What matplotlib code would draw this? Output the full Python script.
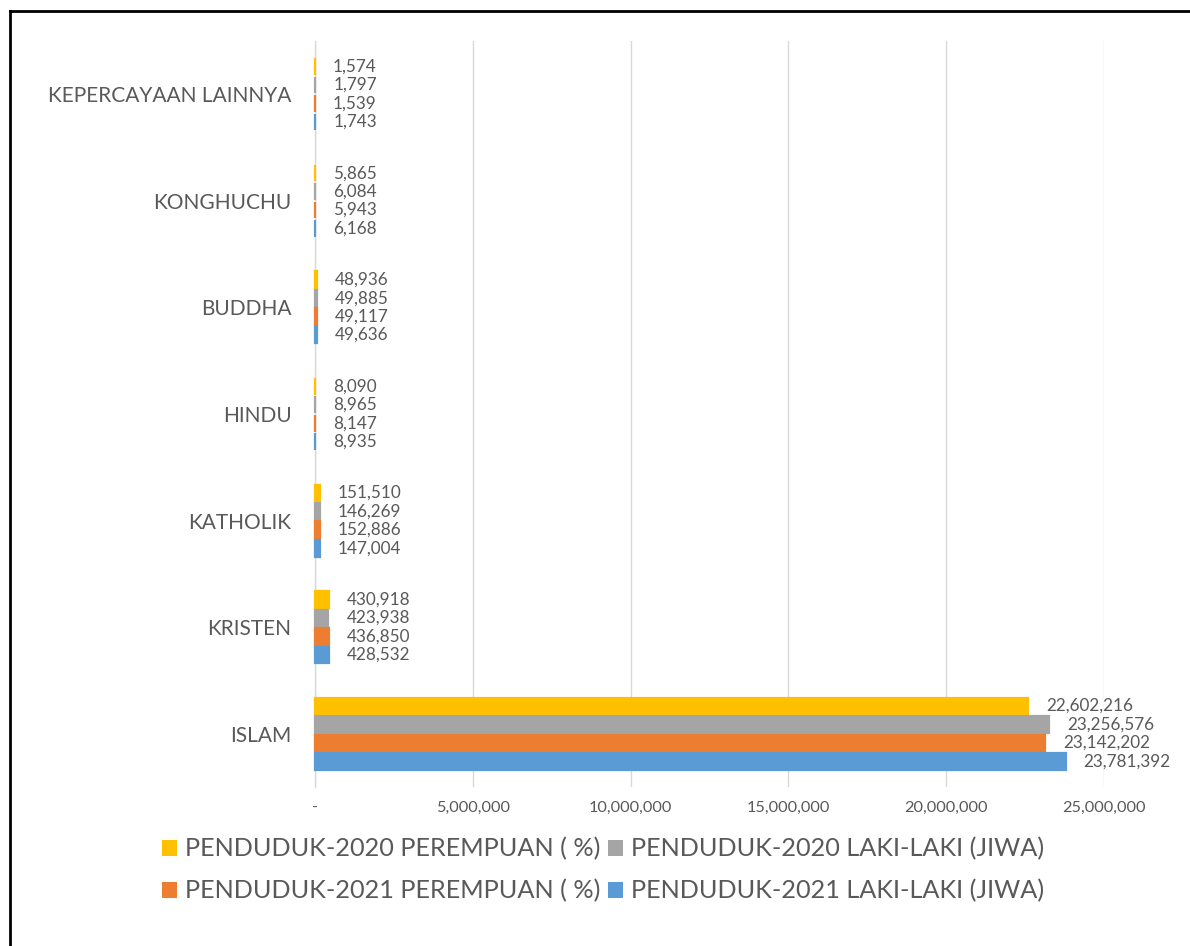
import numpy as np
import matplotlib
matplotlib.use("Agg")
import matplotlib.pyplot as plt
from matplotlib.patches import Patch
from matplotlib.lines import Line2D

plt.rcParams['font.family'] = ['Lato', 'DejaVu Sans']

categories = ["ISLAM", "KRISTEN", "KATHOLIK", "HINDU", "BUDDHA", "KONGHUCHU", "KEPERCAYAAN LAINNYA"]

p2020_perempuan = [22602216, 430918, 151510, 8090, 48936, 5865, 1574]
p2020_laki = [23256576, 423938, 146269, 8965, 49885, 6084, 1797]
p2021_perempuan = [23142202, 436850, 152886, 8147, 49117, 5943, 1539]
p2021_laki = [23781392, 428532, 147004, 8935, 49636, 6168, 1743]

series_names = ["PENDUDUK-2020 PEREMPUAN ( %)", "PENDUDUK-2020 LAKI-LAKI (JIWA)",
                "PENDUDUK-2021 PEREMPUAN ( %)", "PENDUDUK-2021 LAKI-LAKI (JIWA)"]
colors = ["#FFC000", "#A5A5A5", "#ED7D31", "#5B9BD5"]
txt = "#595959"

fig = plt.figure(figsize=(11.9, 9.46), dpi=100)
ax = fig.add_axes([315/1190, 1-787/946, (1104-315)/1190, (787-41)/946])

y = np.arange(len(categories))
h = 0.173
offsets = [1.5*h, 0.5*h, -0.5*h, -1.5*h]
all_series = [p2020_perempuan, p2020_laki, p2021_perempuan, p2021_laki]

for vals, off, c in zip(all_series, offsets, colors):
    # same-colour edge keeps the tiny bars visible, like Excel does
    bars = ax.barh(y + off, vals, height=h*0.9, color=c, edgecolor=c, linewidth=1.6,
                   zorder=3, clip_on=False)
    for b, v in zip(bars, vals):
        ax.annotate(f"{v:,}", (b.get_width(), b.get_y() + b.get_height()/2),
                    xytext=(13, 0), textcoords="offset points", va="center", ha="left",
                    fontsize=12.3, color=txt)

ax.set_xlim(0, 25000000)
ax.set_ylim(-0.5, len(categories) - 0.5)
ax.set_xticks(np.arange(0, 25000001, 5000000))
ax.set_xticklabels(["-"] + [f"{int(t):,}" for t in np.arange(5000000, 25000001, 5000000)])
ax.set_yticks(y)
ax.set_yticklabels(categories)
ax.tick_params(axis="x", length=0, pad=10, labelsize=11.7, labelcolor=txt)
ax.tick_params(axis="y", length=0, pad=17, labelsize=15, labelcolor=txt)
ax.grid(axis="x", color="#D9D9D9", linewidth=1, zorder=0)
for s in ["top", "right", "bottom"]:
    ax.spines[s].set_visible(False)
ax.spines["left"].set_color("#D9D9D9")
ax.spines["left"].set_linewidth(1)
ax.spines["left"].set_zorder(2)

handles = [Patch(facecolor=c, edgecolor="none") for c in colors]
order = [0, 2, 1, 3]
fig.legend([handles[i] for i in order], [series_names[i] for i in order],
           ncol=2, loc="center", bbox_to_anchor=(603/1190, 1-870/946),
           frameon=False, fontsize=18.2, labelcolor=txt,
           handlelength=0.6, handleheight=0.6, handletextpad=0.3,
           columnspacing=0.3, labelspacing=0.75)

# outer frame
fig.add_artist(Line2D([10/1190, 10/1190], [0, 1-11/946], color="black", linewidth=2, transform=fig.transFigure))
fig.add_artist(Line2D([10/1190, 1], [1-11/946, 1-11/946], color="black", linewidth=2, transform=fig.transFigure))

fig.savefig("out.png", dpi=100)
